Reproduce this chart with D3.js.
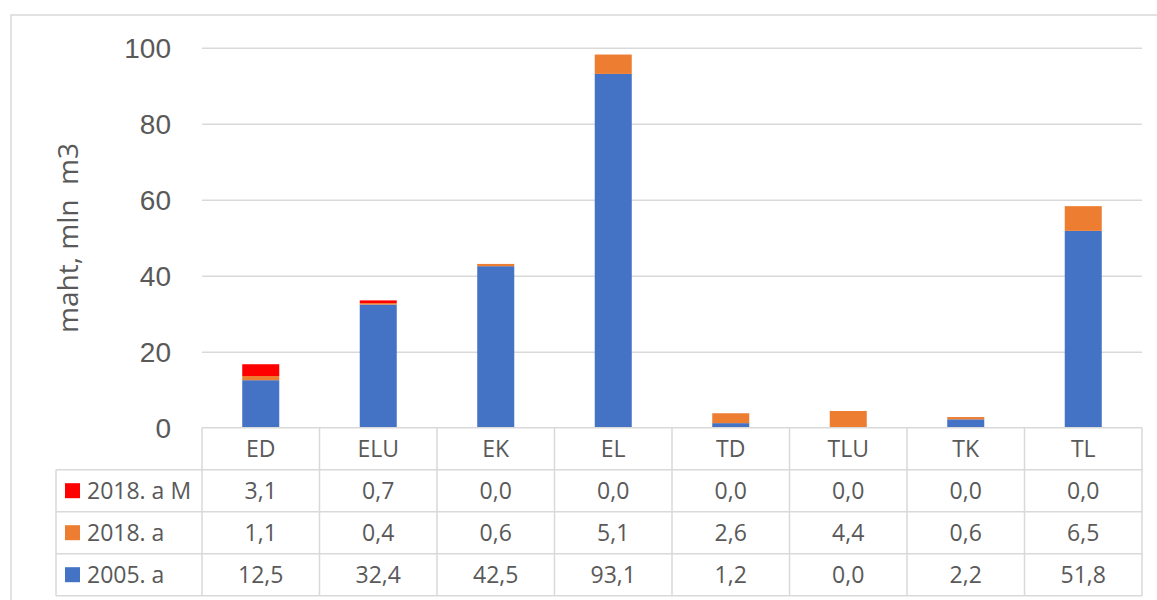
<!DOCTYPE html>
<html>
<head>
<meta charset="utf-8">
<script src="https://cdn.jsdelivr.net/npm/d3@7"></script>
<style>
  html, body { margin: 0; padding: 0; background: #fff; }
  svg { display: block; font-family: "Open Sans", "Noto Sans", sans-serif; }
</style>
</head>
<body>
<svg id="chart" width="1157" height="600"></svg>
<script>
// Categories and series (mln m3)
const categories = ["ED", "ELU", "EK", "EL", "TD", "TLU", "TK", "TL"];
const series2005 = [12.5, 32.4, 42.5, 93.1, 1.2, 0.0, 2.2, 51.8];
const series2018 = [1.1, 0.4, 0.6, 5.1, 2.6, 4.4, 0.6, 6.5];
const series2018M = [3.1, 0.7, 0.0, 0.0, 0.0, 0.0, 0.0, 0.0];
const seriesNames = ["2005. a", "2018. a", "2018. a M"];
const seriesColors = ["#4472C4", "#ED7D31", "#FF0000"];
const yTicks = [0, 20, 40, 60, 80, 100];
const yLabel = "maht, mln\u00a0\u00a0m3";

const svg = d3.select("#chart");
const textColor = "#595959";
const lineColor = "#d9d9d9";

const plotLeft = 202, plotRight = 1142;
const y = d3.scaleLinear().domain([0, 100]).range([427.7, 47.7]);
const x = d3.scaleBand().domain(categories).range([plotLeft, plotRight]).padding(0);

// Outer chart frame
svg.append("rect")
  .attr("x", 11).attr("y", 15).attr("width", 1160).attr("height", 600)
  .attr("fill", "none").attr("stroke", lineColor).attr("stroke-width", 1.5);

// Gridlines and tick labels
const yAxis = d3.axisLeft(y).tickValues(yTicks).tickSize(-(plotRight - plotLeft)).tickFormat(d3.format("d"));
const gAxis = svg.append("g").attr("transform", `translate(${plotLeft},0)`).call(yAxis);
gAxis.select(".domain").remove();
gAxis.selectAll(".tick line").attr("stroke", lineColor).attr("stroke-width", 1.5)
  .filter(d => d === 0).remove();
gAxis.selectAll(".tick text")
  .attr("x", -31).attr("dy", "0.35em")
  .attr("fill", textColor).style("font-size", "28px").style("font-family", "inherit");

// Y axis title
svg.append("text")
  .attr("transform", `translate(78,238) rotate(-90)`)
  .attr("text-anchor", "middle")
  .attr("fill", textColor)
  .style("font-size", "28px")
  .text(yLabel);

// Stacked bars
const rows = categories.map((c, i) => ({ cat: c, s0: series2005[i], s1: series2018[i], s2: series2018M[i] }));
const stack = d3.stack().keys(["s0", "s1", "s2"]);
const stacked = stack(rows);
const barW = x.bandwidth() * 0.315;

svg.append("g").selectAll("g")
  .data(stacked)
  .join("g")
  .attr("fill", (d, i) => seriesColors[i])
  .selectAll("rect")
  .data(d => d)
  .join("rect")
  .attr("x", d => x(d.data.cat) + (x.bandwidth() - barW) / 2)
  .attr("width", barW)
  .attr("y", d => y(d[1]))
  .attr("height", d => Math.max(0, y(d[0]) - y(d[1])));

// Data table below the plot
const rowH = 42;
const tableTop = 427.7;
const legendLeft = 56;
const tableRows = [
  { name: seriesNames[2], color: seriesColors[2], values: series2018M },
  { name: seriesNames[1], color: seriesColors[1], values: series2018 },
  { name: seriesNames[0], color: seriesColors[0], values: series2005 }
];
const fmt = v => d3.format(".1f")(v).replace(".", ",");
const table = svg.append("g");

// Horizontal rules
table.append("line").attr("x1", plotLeft).attr("x2", plotRight)
  .attr("y1", tableTop).attr("y2", tableTop);
for (let r = 1; r <= tableRows.length + 1; r++) {
  table.append("line").attr("x1", legendLeft).attr("x2", plotRight)
    .attr("y1", tableTop + r * rowH).attr("y2", tableTop + r * rowH);
}
// Vertical rules
table.append("line").attr("x1", legendLeft).attr("x2", legendLeft)
  .attr("y1", tableTop + rowH).attr("y2", tableTop + rowH * 4);
categories.forEach(c => {
  table.append("line").attr("x1", x(c)).attr("x2", x(c))
    .attr("y1", tableTop).attr("y2", tableTop + rowH * 4);
});
table.append("line").attr("x1", plotRight).attr("x2", plotRight)
  .attr("y1", tableTop).attr("y2", tableTop + rowH * 4);
table.selectAll("line").attr("stroke", lineColor).attr("stroke-width", 1.5);

// Category header row
table.selectAll("text.cat")
  .data(categories)
  .join("text")
  .attr("class", "cat")
  .attr("x", d => x(d) + x.bandwidth() / 2)
  .attr("y", tableTop + rowH / 2)
  .attr("dy", "0.35em")
  .attr("text-anchor", "middle")
  .attr("fill", textColor)
  .style("font-size", "23px")
  .text(d => d);

// Series rows with legend keys
tableRows.forEach((row, r) => {
  const cy = tableTop + rowH * (r + 1) + rowH / 2;
  table.append("rect")
    .attr("x", 65).attr("y", cy - 7.5).attr("width", 15).attr("height", 15)
    .attr("fill", row.color);
  table.append("text")
    .attr("x", 87).attr("y", cy).attr("dy", "0.35em")
    .attr("fill", textColor).style("font-size", "23px")
    .text(row.name);
  table.selectAll(null)
    .data(row.values.map((v, i) => ({ v, cat: categories[i] })))
    .join("text")
    .attr("x", d => x(d.cat) + x.bandwidth() / 2)
    .attr("y", cy).attr("dy", "0.35em")
    .attr("text-anchor", "middle")
    .attr("fill", textColor).style("font-size", "23px")
    .text(d => fmt(d.v));
});
</script>
</body>
</html>
